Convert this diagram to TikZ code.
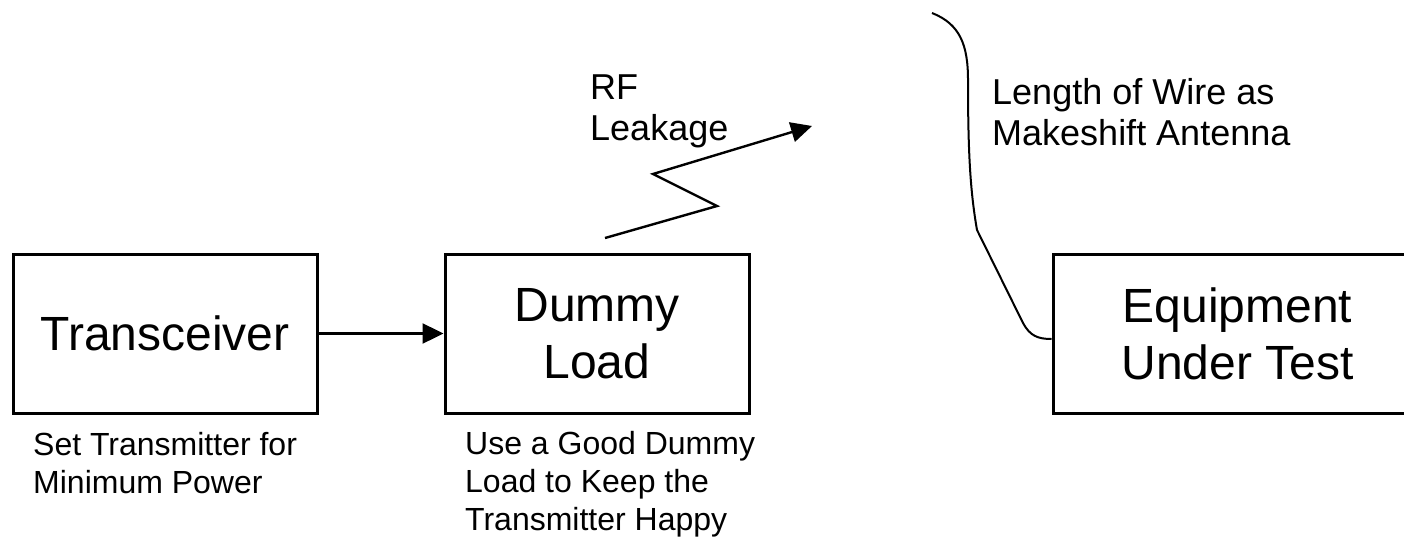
\documentclass[tikz,border=0pt]{standalone}
\usepackage{fontspec}
\setmainfont{Liberation Sans}
\usetikzlibrary{arrows.meta,calc}
\tikzset{
  block/.style={draw, line width=3pt, minimum width=304pt, minimum height=159pt,
    inner sep=0pt, align=center, font=\fontsize{48}{57}\selectfont},
  note/.style={align=left, inner sep=0pt, anchor=base west, font=\fontsize{32}{38}\selectfont},
  tag/.style={align=left, inner sep=0pt, anchor=base west, font=\fontsize{36}{41}\selectfont},
  link/.style={line width=2.4pt},
  tip/.style={-{Triangle[length=21pt,width=20pt]}},
  wire/.style={line width=2pt, line join=round}
}
\begin{document}
\begin{tikzpicture}[x=1pt,y=-1pt]
\useasboundingbox (0,0) rectangle (1404,538);

% main blocks
\node[block] (tx) at (165,333.5) {Transceiver};
\node[block] (dl) at (597,333.5) {Dummy\\Load};
\node[block, minimum width=369pt] (eut) at (1237.5,333.5) {Equipment\\Under Test};

% feed line
\draw[link,tip] (tx) -- (dl);

% leakage zigzag
\coordinate (rf0) at (605,238);
\coordinate (rf1) at (717,206);
\coordinate (rf2) at (653,174);
\coordinate (rf3) at (812,126);
\draw[link,tip,line join=miter] (rf0) -- (rf1) -- (rf2) -- (rf3);

% wire antenna
\coordinate (w0) at (932,13);
\draw[wire] (w0) .. controls (960,24) and (968,45) .. (968,80)
  .. controls (968,150) and (970,190) .. (977,230)
  -- (1023,323) .. controls (1030,336) and (1038,339) .. ($(eut.west)+(0,5.5)$);

% labels (anchored at the baseline of the last line)
\node[tag] (rf) at (590,140) {RF\\Leakage};
\node[tag] (len) at (992,145) {Length of Wire as\\Makeshift Antenna};
\node[note] (txn) at (33,493) {Set Transmitter for\\Minimum Power};
\node[note] (dln) at (465,530) {Use a Good Dummy\\Load to Keep the\\Transmitter Happy};
\end{tikzpicture}
\end{document}
